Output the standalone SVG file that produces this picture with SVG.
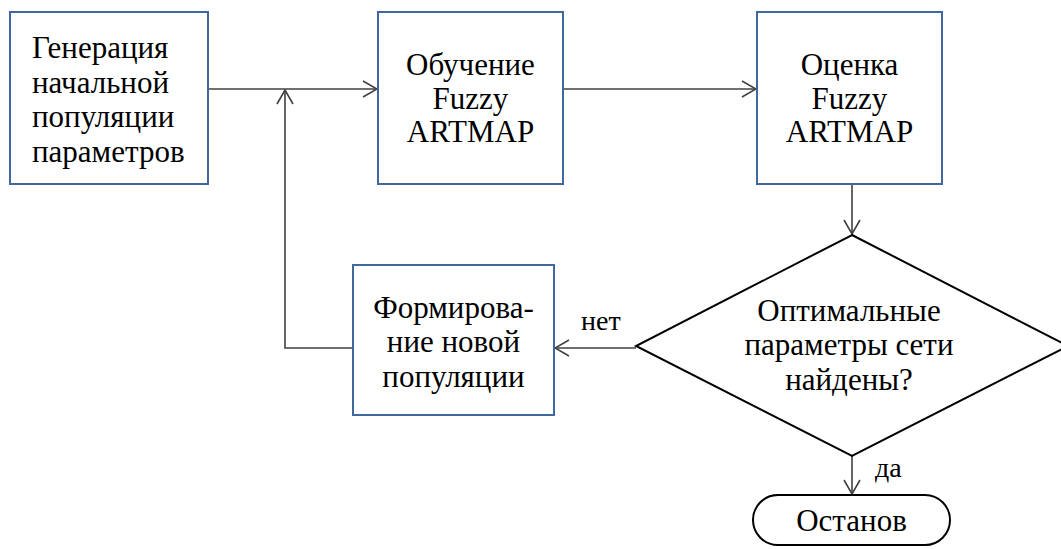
<svg xmlns="http://www.w3.org/2000/svg" width="1061" height="549" viewBox="0 0 1061 549">
  <defs>
    <style>
      .box { fill: #ffffff; stroke: #41679f; stroke-width: 2; }
      .shape { fill: #ffffff; stroke: #000000; stroke-width: 2; }
      .line { fill: none; stroke: #404040; stroke-width: 1.6; }
    </style>
    <marker id="arrow" viewBox="0 0 16 18" refX="15" refY="9" markerWidth="16" markerHeight="18" markerUnits="userSpaceOnUse" orient="auto">
      <path d="M1,1 L15,9 L1,17" fill="none" stroke="#404040" stroke-width="1.6"/>
    </marker>
  </defs>

  <rect width="1061" height="549" fill="#ffffff"/>

  <g font-family="Liberation Serif, serif" font-size="31" fill="#000000">
    <!-- connectors -->
    <g id="connectors">
      <line class="line" x1="208" y1="89" x2="377" y2="89" marker-end="url(#arrow)"/>
      <line class="line" x1="563" y1="89" x2="756" y2="89" marker-end="url(#arrow)"/>
      <line class="line" x1="852" y1="184" x2="852" y2="234" marker-end="url(#arrow)"/>
      <line class="line" x1="636" y1="348" x2="555" y2="348" marker-end="url(#arrow)"/>
      <path class="line" d="M353,348 H285 V90" marker-end="url(#arrow)"/>
      <line class="line" x1="852" y1="455" x2="852" y2="494" marker-end="url(#arrow)"/>
      <text x="581" y="330" font-size="28">нет</text>
      <text x="875" y="477" font-size="28">да</text>
    </g>

    <!-- start: initial population -->
    <g id="node-init">
      <rect class="box" x="10" y="12" width="198" height="172"/>
      <text x="32" y="58">Генерация</text>
      <text x="32" y="93">начальной</text>
      <text x="32" y="127">популяции</text>
      <text x="32" y="162">параметров</text>
    </g>

    <!-- training -->
    <g id="node-train" text-anchor="middle">
      <rect class="box" x="378" y="12" width="185" height="172"/>
      <text x="470.5" y="75">Обучение</text>
      <text x="470.5" y="108.5">Fuzzy</text>
      <text x="470.5" y="142">ARTMAP</text>
    </g>

    <!-- evaluation -->
    <g id="node-eval" text-anchor="middle">
      <rect class="box" x="757" y="12" width="185" height="172"/>
      <text x="849.5" y="75">Оценка</text>
      <text x="849.5" y="108.5">Fuzzy</text>
      <text x="849.5" y="142">ARTMAP</text>
    </g>

    <!-- decision -->
    <g id="node-decision" text-anchor="middle">
      <polygon class="shape" points="852,235 1068,346 852,456 636,346"/>
      <text x="849" y="321">Оптимальные</text>
      <text x="849" y="355">параметры сети</text>
      <text x="849" y="390">найдены?</text>
    </g>

    <!-- new population -->
    <g id="node-newpop" text-anchor="middle">
      <rect class="box" x="353" y="265" width="201" height="150"/>
      <text x="453.5" y="318">Формирова-</text>
      <text x="453.5" y="352">ние новой</text>
      <text x="453.5" y="387">популяции</text>
    </g>

    <!-- stop -->
    <g id="node-stop" text-anchor="middle">
      <rect class="shape" x="753" y="495" width="197" height="50" rx="25" ry="25"/>
      <text x="851.5" y="531">Останов</text>
    </g>
  </g>
</svg>
